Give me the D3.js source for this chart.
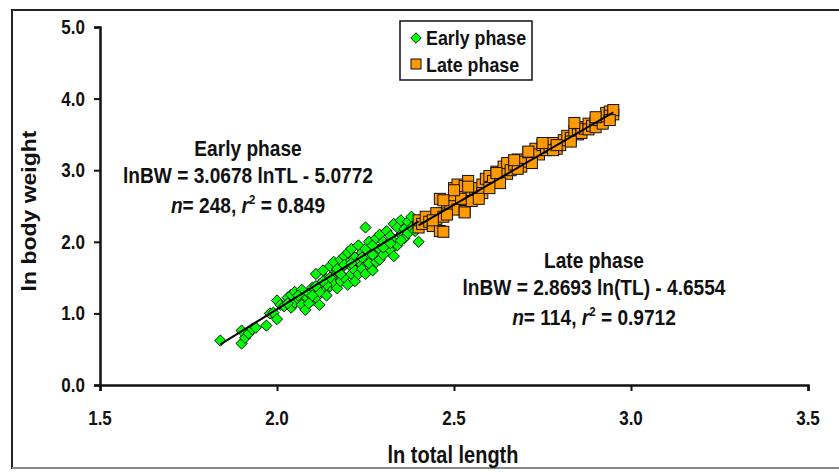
<!DOCTYPE html>
<html><head><meta charset="utf-8">
<script src="https://cdn.jsdelivr.net/npm/d3@7"></script>
<style>body{margin:0;background:#fff}svg{display:block}text{font-family:"Liberation Sans",Arial,sans-serif;font-weight:bold;fill:#111}</style>
</head><body>
<script>
const xTicks = [1.5, 2.0, 2.5, 3.0, 3.5];
const yTicks = [0, 1, 2, 3, 4, 5];
const seriesNames = ["Early phase", "Late phase"];
const earlyX = [1.84,1.90,1.91,1.90,1.92,1.93,1.94,1.97,1.98,1.99,2.00,2.00,2.01,2.02,2.03,2.04,2.04,2.05,2.05,2.06,2.07,2.07,2.08,2.08,2.09,2.10,2.10,2.11,2.11,2.12,2.12,2.13,2.13,2.14,2.14,2.15,2.15,2.16,2.16,2.16,2.17,2.17,2.18,2.18,2.18,2.19,2.19,2.20,2.20,2.20,2.21,2.21,2.21,2.22,2.22,2.22,2.23,2.23,2.23,2.24,2.24,2.24,2.25,2.25,2.25,2.25,2.26,2.26,2.26,2.27,2.27,2.28,2.28,2.28,2.29,2.29,2.29,2.30,2.30,2.31,2.31,2.32,2.32,2.33,2.33,2.33,2.34,2.34,2.35,2.35,2.36,2.36,2.37,2.37,2.38,2.38,2.39,2.40,2.40,2.19,2.17,2.14,2.12,2.10,2.09,2.06,2.03,2.27,2.30,2.32,2.35,2.24,2.21,2.18,2.15,2.13,2.11];
const earlyY = [0.62,0.58,0.66,0.76,0.72,0.78,0.80,0.83,1.00,1.01,0.92,1.18,1.12,1.10,1.22,1.26,1.08,1.30,1.15,1.20,1.33,1.12,1.24,1.05,1.28,1.36,1.18,1.22,1.55,1.40,1.12,1.30,1.60,1.48,1.25,1.66,1.38,1.52,1.42,1.72,1.58,1.35,1.75,1.62,1.45,1.80,1.50,1.70,1.40,1.85,1.65,1.55,1.90,1.78,1.60,1.45,1.95,1.72,1.55,1.85,1.68,1.62,2.20,1.90,1.75,1.55,2.00,1.80,1.70,1.95,1.60,2.05,1.85,1.72,2.10,1.90,1.75,2.00,1.82,2.15,1.95,2.08,1.88,2.25,2.00,1.80,2.20,1.95,2.30,2.10,2.18,2.05,2.28,2.12,2.35,2.20,2.15,2.00,2.30,1.68,1.62,1.40,1.30,1.25,1.14,1.25,1.14,1.82,1.92,1.98,2.02,1.78,1.70,1.55,1.50,1.45,1.38];
const lateX = [2.40,2.40,2.41,2.42,2.43,2.44,2.45,2.45,2.46,2.46,2.47,2.48,2.49,2.50,2.50,2.51,2.51,2.52,2.52,2.53,2.53,2.54,2.55,2.56,2.57,2.58,2.59,2.60,2.61,2.62,2.63,2.64,2.65,2.65,2.66,2.67,2.68,2.69,2.70,2.71,2.72,2.73,2.74,2.75,2.76,2.77,2.78,2.79,2.80,2.81,2.82,2.83,2.84,2.85,2.86,2.86,2.87,2.88,2.88,2.89,2.90,2.90,2.91,2.92,2.92,2.93,2.93,2.94,2.94,2.95,2.95,2.94,2.63,2.58,2.55,2.48,2.44,2.68,2.72,2.78,2.83,2.54,2.50,2.47,2.53,2.47,2.57,2.60,2.62,2.67,2.71,2.75,2.79,2.84,2.90];
const lateY = [2.20,2.30,2.25,2.35,2.28,2.22,2.32,2.40,2.15,2.60,2.35,2.55,2.50,2.65,2.75,2.45,2.80,2.70,2.60,2.43,2.78,2.85,2.70,2.62,2.75,2.80,2.88,2.92,2.85,2.98,2.90,3.05,2.95,3.10,3.00,3.08,3.15,3.05,3.12,3.25,3.18,3.30,3.22,3.35,3.28,3.32,3.38,3.30,3.35,3.42,3.48,3.45,3.55,3.50,3.60,3.52,3.58,3.65,3.57,3.62,3.68,3.60,3.70,3.72,3.65,3.75,3.80,3.82,3.76,3.78,3.84,3.70,2.82,2.68,2.57,2.38,2.30,3.02,3.10,3.28,3.40,2.77,2.72,2.58,2.41,2.14,2.60,2.75,2.96,3.14,3.26,3.38,3.35,3.66,3.74];
const fits = [{a:3.0678,b:-5.0772,x0:1.84,x1:2.40},{a:2.8693,b:-4.6554,x0:2.40,x1:2.95}];

const W = 839, H = 473;
const svg = d3.select("body").append("svg").attr("width", W).attr("height", H);
const x = d3.scaleLinear().domain([1.5, 3.5]).range([100, 808]);
const y = d3.scaleLinear().domain([0, 5]).range([385, 27]);
const SX = 0.85;

// outer frame: dark top/left, grey bottom, right edge cut off
svg.append("path").attr("d", "M12,469 L12,10 L839,10").attr("fill", "none").attr("stroke", "#222").attr("stroke-width", 2);
svg.append("line").attr("x1", 12).attr("y1", 468).attr("x2", 839).attr("y2", 468).attr("stroke", "#888").attr("stroke-width", 2);

function label(t, px, py, size, anchor, rot) {
  const g = svg.append("g").attr("transform", `translate(${px},${py}) scale(${SX},1)` + (rot ? ` rotate(${rot})` : ""));
  const el = g.append("text").attr("font-size", size).attr("text-anchor", anchor || "middle");
  if (typeof t === "string") el.text(t);
  else t.forEach(p => { const s = el.append("tspan").text(p.t); if (p.i) s.attr("font-style", "italic"); if (p.sup) s.attr("font-size", size * 0.6).attr("dy", -size * 0.4); if (p.down) s.attr("dy", size * 0.4); });
  return el;
}

// axes
const xAxis = svg.append("g").attr("transform", "translate(0,385)")
  .call(d3.axisBottom(x).tickValues(xTicks).tickSize(6).tickFormat(""));
const yAxis = svg.append("g").attr("transform", "translate(100,0)")
  .call(d3.axisLeft(y).tickValues(yTicks).tickSize(6).tickFormat(""));
[xAxis, yAxis].forEach(a => { a.select(".domain").attr("stroke", "#111").attr("stroke-width", 2.5); a.selectAll(".tick line").attr("stroke", "#111").attr("stroke-width", 2); });
xTicks.forEach(v => label(d3.format(".1f")(v), x(v), 425, 20, "middle"));
yTicks.forEach(v => label(d3.format(".1f")(v), 85, y(v) + 7, 20, "end"));
label("ln total length", 453, 463, 23.5, "middle");
label("ln body weight", 36, 211, 23, "middle", -90);

// points
const early = earlyX.map((v, i) => [v, earlyY[i]]);
const late = lateX.map((v, i) => [v, lateY[i]]);
svg.append("g").selectAll("path").data(early).join("path")
  .attr("d", d3.symbol(d3.symbolDiamond2, 80))
  .attr("transform", d => `translate(${x(d[0])},${y(d[1])})`)
  .attr("fill", "#00ff00").attr("stroke", "#111").attr("stroke-width", 1);
svg.append("g").selectAll("rect").data(late).join("rect")
  .attr("x", d => x(d[0]) - 5.5).attr("y", d => y(d[1]) - 5.5).attr("width", 11).attr("height", 11)
  .attr("fill", "#ff9900").attr("stroke", "#111").attr("stroke-width", 1);

// fit lines
fits.forEach(f => {
  svg.append("line").attr("x1", x(f.x0)).attr("y1", y(f.a * f.x0 + f.b)).attr("x2", x(f.x1)).attr("y2", y(f.a * f.x1 + f.b))
    .attr("stroke", "#000").attr("stroke-width", 2);
});

// annotations
label("Early phase", 248, 156, 22.5, "middle");
label("lnBW = 3.0678 lnTL - 5.0772", 248, 183, 22.5, "middle");
label([{t:"n", i:true},{t:"= 248, "},{t:"r", i:true},{t:"2", sup:true},{t:" = 0.849", down:true}], 248, 213, 22.5, "middle");
label("Late phase", 594, 268, 22.5, "middle");
label("lnBW = 2.8693 ln(TL) - 4.6554", 594, 295, 22.5, "middle");
label([{t:"n", i:true},{t:"= 114, "},{t:"r", i:true},{t:"2", sup:true},{t:" = 0.9712", down:true}], 594, 325, 22.5, "middle");

// legend
svg.append("rect").attr("x", 400).attr("y", 21).attr("width", 132).attr("height", 59)
  .attr("fill", "#fff").attr("stroke", "#111").attr("stroke-width", 1.5);
svg.append("path").attr("d", d3.symbol(d3.symbolDiamond2, 70)).attr("transform", "translate(416,38)")
  .attr("fill", "#00ff00").attr("stroke", "#111");
svg.append("rect").attr("x", 411).attr("y", 59).attr("width", 10).attr("height", 10)
  .attr("fill", "#ff9900").attr("stroke", "#111");
label(seriesNames[0], 426, 45, 21, "start");
label(seriesNames[1], 426, 72, 21, "start");
</script>
</body></html>
